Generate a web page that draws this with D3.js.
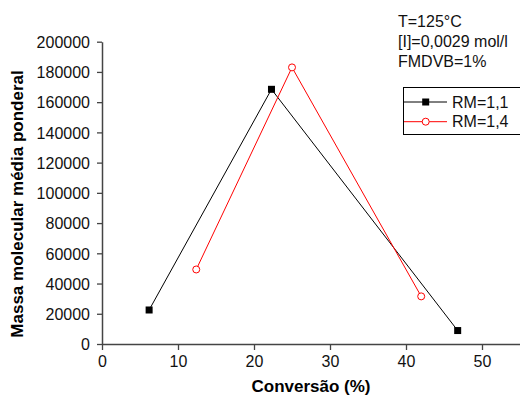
<!DOCTYPE html>
<html>
<head>
<meta charset="utf-8">
<script src="https://d3js.org/d3.v7.min.js"></script>
<style>
html,body{margin:0;padding:0;background:#fff;}
svg{display:block;font-family:"Liberation Sans",Arial,sans-serif;}
</style>
</head>
<body>
<svg id="c" width="520" height="397"></svg>
<script>
const seriesNames = ["RM=1,1", "RM=1,4"];
const conv11 = [6.2, 22.3, 46.8];
const mw11 = [22500, 168500, 8900];
const conv14 = [12.4, 25.0, 42.0];
const mw14 = [49300, 183000, 31500];
const xTicks = [0, 10, 20, 30, 40, 50];
const yTicks = [0, 20000, 40000, 60000, 80000, 100000, 120000, 140000, 160000, 180000, 200000];
const annotations = ["T=125°C", "[I]=0,0029 mol/l", "FMDVB=1%"];

const svg = d3.select("#c");
const x = d3.scaleLinear().domain([0, 55]).range([102, 520]);
const y = d3.scaleLinear().domain([0, 200000]).range([344, 41.7]);
const axisColor = "#444";

// minor ticks
const gx = svg.append("g").attr("transform", "translate(0,344)");
gx.call(d3.axisBottom(x).tickValues(d3.range(5, 56, 10)).tickSize(3).tickFormat(""));
gx.call(d3.axisBottom(x).tickValues(xTicks).tickSize(6).tickSizeOuter(0).tickFormat(d3.format("d")));
const gy = svg.append("g").attr("transform", "translate(102,0)");
gy.call(d3.axisLeft(y).tickValues(d3.range(10000, 200000, 20000)).tickSize(3).tickFormat(""));
gy.call(d3.axisLeft(y).tickValues(yTicks).tickSize(5).tickSizeOuter(0).tickFormat(d3.format("d")));
svg.selectAll(".domain").attr("stroke", axisColor).attr("stroke-width", 1.5);
svg.selectAll(".tick line").attr("stroke", axisColor).attr("stroke-width", 1.3);
gx.selectAll(".tick text").attr("font-size", 16).attr("fill", "#111").attr("y", 0).attr("dy", 0)
  .attr("transform", "translate(0,23)").attr("font-family", "Liberation Sans, Arial, sans-serif");
gy.selectAll(".tick text").attr("font-size", 16).attr("fill", "#111").attr("x", -12).attr("dy", "0.36em")
  .attr("font-family", "Liberation Sans, Arial, sans-serif");

// titles
svg.append("text").attr("x", 311).attr("y", 392).attr("text-anchor", "middle")
  .attr("font-size", 17).attr("font-weight", "bold").text("Conversão (%)");
svg.append("text").attr("transform", "translate(23,204) rotate(-90)").attr("text-anchor", "middle")
  .attr("font-size", 17).attr("font-weight", "bold").text("Massa molecular média ponderal");

// lines
const line = d3.line().x(d => x(d[0])).y(d => y(d[1]));
const d11 = conv11.map((c, i) => [c, mw11[i]]);
const d14 = conv14.map((c, i) => [c, mw14[i]]);
svg.append("path").datum(d11).attr("d", line).attr("fill", "none").attr("stroke", "#000").attr("stroke-width", 1);
svg.append("path").datum(d14).attr("d", line).attr("fill", "none").attr("stroke", "#f00").attr("stroke-width", 1);
svg.selectAll(".sq").data(d11).enter().append("rect")
  .attr("x", d => x(d[0]) - 3.5).attr("y", d => y(d[1]) - 3.5).attr("width", 7).attr("height", 7).attr("fill", "#000");
svg.selectAll(".ci").data(d14).enter().append("circle")
  .attr("cx", d => x(d[0])).attr("cy", d => y(d[1])).attr("r", 3.5).attr("fill", "#fff").attr("stroke", "#f00").attr("stroke-width", 1);

// annotation
annotations.forEach((t, i) => {
  svg.append("text").attr("x", 398).attr("y", 26.5 + i * 20).attr("font-size", 16).attr("fill", "#111").text(t);
});

// legend
svg.append("rect").attr("x", 403.5).attr("y", 87.5).attr("width", 130).attr("height", 47)
  .attr("fill", "#fff").attr("stroke", "#000").attr("stroke-width", 1);
const lg = [[102, "#000", "sq"], [121.7, "#f00", "ci"]];
lg.forEach((l, i) => {
  svg.append("line").attr("x1", 404).attr("x2", 447).attr("y1", l[0]).attr("y2", l[0]).attr("stroke", l[1]).attr("stroke-width", 1);
  if (l[2] === "sq") svg.append("rect").attr("x", 422.2).attr("y", l[0] - 3.5).attr("width", 7).attr("height", 7).attr("fill", "#000");
  else svg.append("circle").attr("cx", 425.7).attr("cy", l[0]).attr("r", 3.5).attr("fill", "#fff").attr("stroke", "#f00");
  svg.append("text").attr("x", 452).attr("y", l[0]).attr("dy", "0.36em").attr("font-size", 16).attr("fill", "#111").text(seriesNames[i]);
});
</script>
</body>
</html>
